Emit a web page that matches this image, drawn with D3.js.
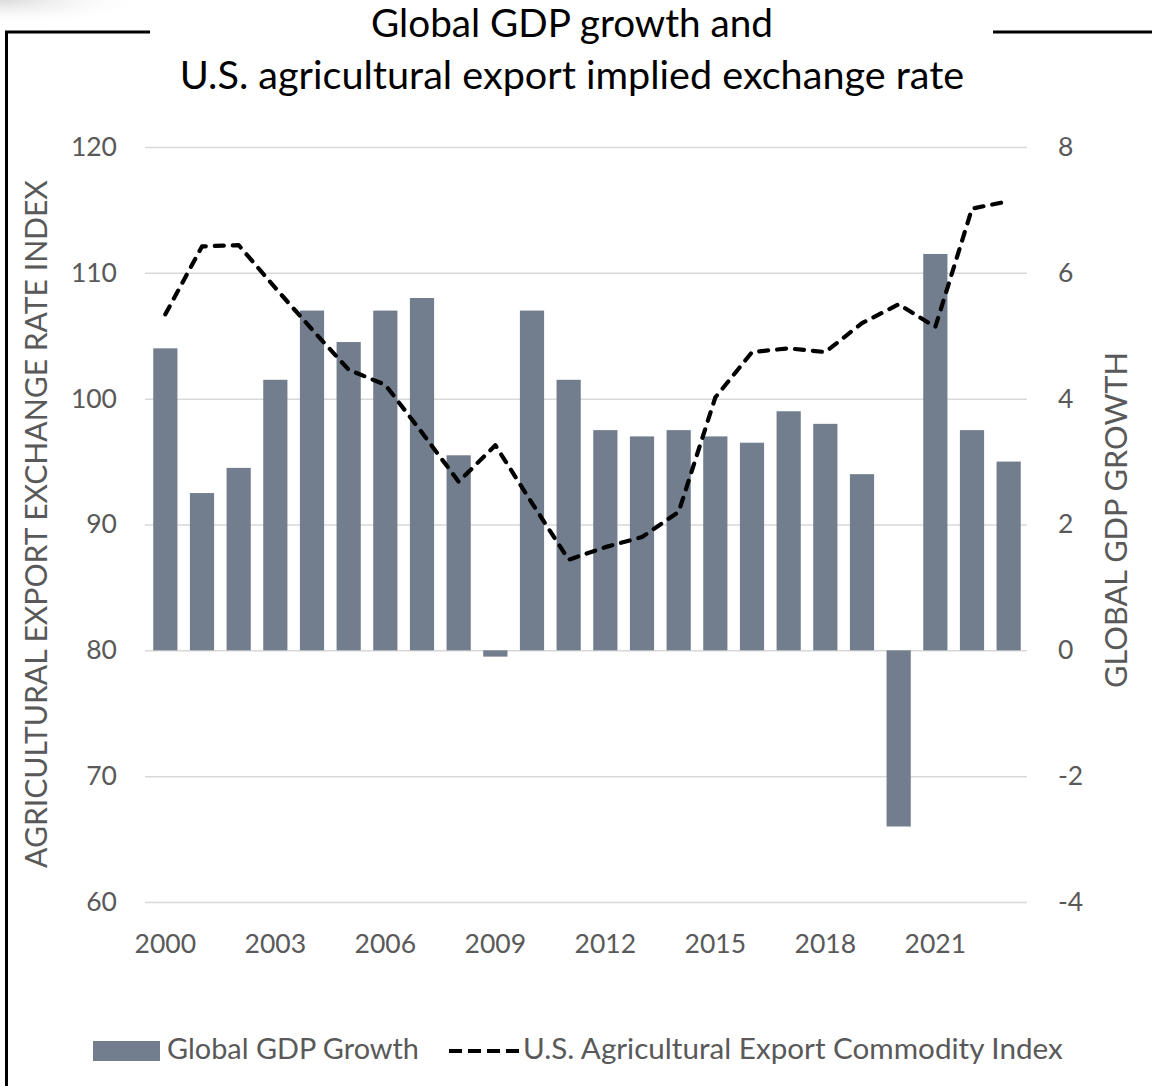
<!DOCTYPE html>
<html>
<head>
<meta charset="utf-8">
<script src="https://cdn.jsdelivr.net/npm/d3@7"></script>
<style>
  html, body { margin: 0; padding: 0; background: #fff; }
  svg { display: block; }
</style>
</head>
<body>
<svg id="chart" width="1152" height="1086"></svg>
<script>
// Years on the category axis
const years = d3.range(2000, 2024);
// Global GDP growth, % (right axis)
const gdpGrowth = [4.8, 2.5, 2.9, 4.3, 5.4, 4.9, 5.4, 5.6, 3.1, -0.1, 5.4, 4.3,
                   3.5, 3.4, 3.5, 3.4, 3.3, 3.8, 3.6, 2.8, -2.8, 6.3, 3.5, 3.0];
// U.S. agricultural export commodity index (left axis)
const exportIndex = [106.7, 112.1, 112.2, 108.8, 105.5, 102.3, 101.1, 97.3, 93.4, 96.3, 91.7, 87.2,
                     88.2, 89.0, 91.0, 100.1, 103.7, 104.0, 103.7, 106.0, 107.5, 105.7, 115.1, 115.7];
// Tick values
const leftTicks = [60, 70, 80, 90, 100, 110, 120];
const rightTicks = [-4, -2, 0, 2, 4, 6, 8];
const yearLabels = [2000, 2003, 2006, 2009, 2012, 2015, 2018, 2021];

const titleLines = ["Global GDP growth and", "U.S. agricultural export implied exchange rate"];
const leftTitle = "AGRICULTURAL EXPORT EXCHANGE RATE INDEX";
const rightTitle = "GLOBAL GDP GROWTH";
const legendLabels = ["Global GDP Growth", "U.S. Agricultural Export Commodity Index"];

const FONT = "Lato, 'Open Sans', sans-serif";
const BAR = "#727d8e";
const TXT = "#595959";
const TICK_FS = 26.5;

const svg = d3.select("#chart");

// Scale a text element's font size so it spans the given width
function fit(sel, width) {
  const n = sel.node();
  const fs = parseFloat(sel.attr("font-size"));
  const w = n.getComputedTextLength();
  if (w > 0) sel.attr("font-size", (fs * width / w).toFixed(2));
  return sel;
}

// Soft shading in the top-left corner
const defs = svg.append("defs");
const rg = defs.append("radialGradient").attr("id", "corner")
  .attr("cx", 0).attr("cy", 0).attr("r", 1)
  .attr("gradientUnits", "objectBoundingBox");
rg.append("stop").attr("offset", "0%").attr("stop-color", "#dadada");
rg.append("stop").attr("offset", "100%").attr("stop-color", "#ffffff").attr("stop-opacity", 0);
svg.append("rect").attr("x", 0).attr("y", 0).attr("width", 150).attr("height", 26)
  .attr("fill", "url(#corner)");

// Frame lines broken around the title
svg.append("path")
  .attr("d", "M6.5,1086 V32 H150")
  .attr("fill", "none").attr("stroke", "#000").attr("stroke-width", 3);
svg.append("path")
  .attr("d", "M993,32 H1152")
  .attr("fill", "none").attr("stroke", "#000").attr("stroke-width", 3);

// Scales
const x = d3.scaleBand().domain(years).range([147, 1027]).paddingInner(0.34).paddingOuter(0.17);
const yL = d3.scaleLinear().domain([60, 120]).range([902, 147]);
const yR = d3.scaleLinear().domain([-4, 8]).range([902, 147]);

// Gridlines
svg.append("g")
  .attr("transform", "translate(145,0)")
  .call(d3.axisLeft(yL).tickValues(leftTicks).tickSize(-882).tickFormat(""))
  .call(g => g.select(".domain").remove())
  .call(g => g.selectAll("line").attr("stroke", "#d9d9d9").attr("stroke-width", 1.5));

// Left axis labels
svg.append("g")
  .attr("transform", "translate(117,0)")
  .call(d3.axisLeft(yL).tickValues(leftTicks).tickSize(0).tickPadding(0))
  .call(g => g.select(".domain").remove())
  .call(g => g.selectAll("text").attr("fill", TXT).attr("font-family", FONT).attr("font-size", TICK_FS));

// Right axis labels (plain hyphen for negatives)
svg.append("g")
  .attr("transform", "translate(1058,0)")
  .call(d3.axisRight(yR).tickValues(rightTicks).tickSize(0).tickPadding(0).tickFormat(d => String(d)))
  .call(g => g.select(".domain").remove())
  .call(g => g.selectAll("text").attr("fill", TXT).attr("font-family", FONT).attr("font-size", TICK_FS));

// Year labels
svg.append("g")
  .attr("transform", "translate(0,934)")
  .call(d3.axisBottom(x).tickValues(yearLabels).tickSize(0).tickPadding(0))
  .call(g => g.select(".domain").remove())
  .call(g => g.selectAll("text").attr("fill", TXT).attr("font-family", FONT).attr("font-size", TICK_FS));

// GDP growth bars
svg.append("g").selectAll("rect")
  .data(years.map((yr, i) => ({ yr, v: gdpGrowth[i] })))
  .join("rect")
  .attr("x", d => x(d.yr))
  .attr("width", x.bandwidth())
  .attr("y", d => Math.min(yR(d.v), yR(0)))
  .attr("height", d => Math.abs(yR(d.v) - yR(0)))
  .attr("fill", BAR);

// Export index dashed line
const line = d3.line()
  .x((d, i) => x(years[i]) + x.bandwidth() / 2)
  .y(d => yL(d));
svg.append("path")
  .datum(exportIndex)
  .attr("d", line)
  .attr("fill", "none")
  .attr("stroke", "#000")
  .attr("stroke-width", 4.2)
  .attr("stroke-dasharray", "9,9")
  .attr("stroke-linecap", "round")
  .attr("stroke-linejoin", "round");

// Title
const t1 = svg.append("text").attr("x", 572).attr("y", 37).attr("text-anchor", "middle")
  .attr("font-family", FONT).attr("font-size", 32).attr("fill", "#000").text(titleLines[0]);
fit(t1, 402);
const t2 = svg.append("text").attr("x", 572).attr("y", 89).attr("text-anchor", "middle")
  .attr("font-family", FONT).attr("font-size", 32).attr("fill", "#000").text(titleLines[1]);
fit(t2, 785);

// Axis titles
const lt = svg.append("text")
  .attr("transform", "translate(47,524) rotate(-90)")
  .attr("text-anchor", "middle")
  .attr("font-family", FONT).attr("font-size", 24).attr("fill", TXT).text(leftTitle);
fit(lt, 688);
const rt = svg.append("text")
  .attr("transform", "translate(1127,520) rotate(-90)")
  .attr("text-anchor", "middle")
  .attr("font-family", FONT).attr("font-size", 24).attr("fill", TXT).text(rightTitle);
fit(rt, 336);

// Legend
const lg = svg.append("g");
lg.append("rect").attr("x", 93).attr("y", 1041).attr("width", 67).attr("height", 20).attr("fill", BAR);
const l1 = lg.append("text").attr("x", 167).attr("y", 1059)
  .attr("font-family", FONT).attr("font-size", 24).attr("fill", TXT).text(legendLabels[0]);
fit(l1, 252);
lg.append("line").attr("x1", 449).attr("x2", 519).attr("y1", 1051).attr("y2", 1051)
  .attr("stroke", "#000").attr("stroke-width", 4).attr("stroke-dasharray", "13,6");
const l2 = lg.append("text").attr("x", 523).attr("y", 1059)
  .attr("font-family", FONT).attr("font-size", 24).attr("fill", TXT).text(legendLabels[1]);
fit(l2, 540);
</script>
</body>
</html>
